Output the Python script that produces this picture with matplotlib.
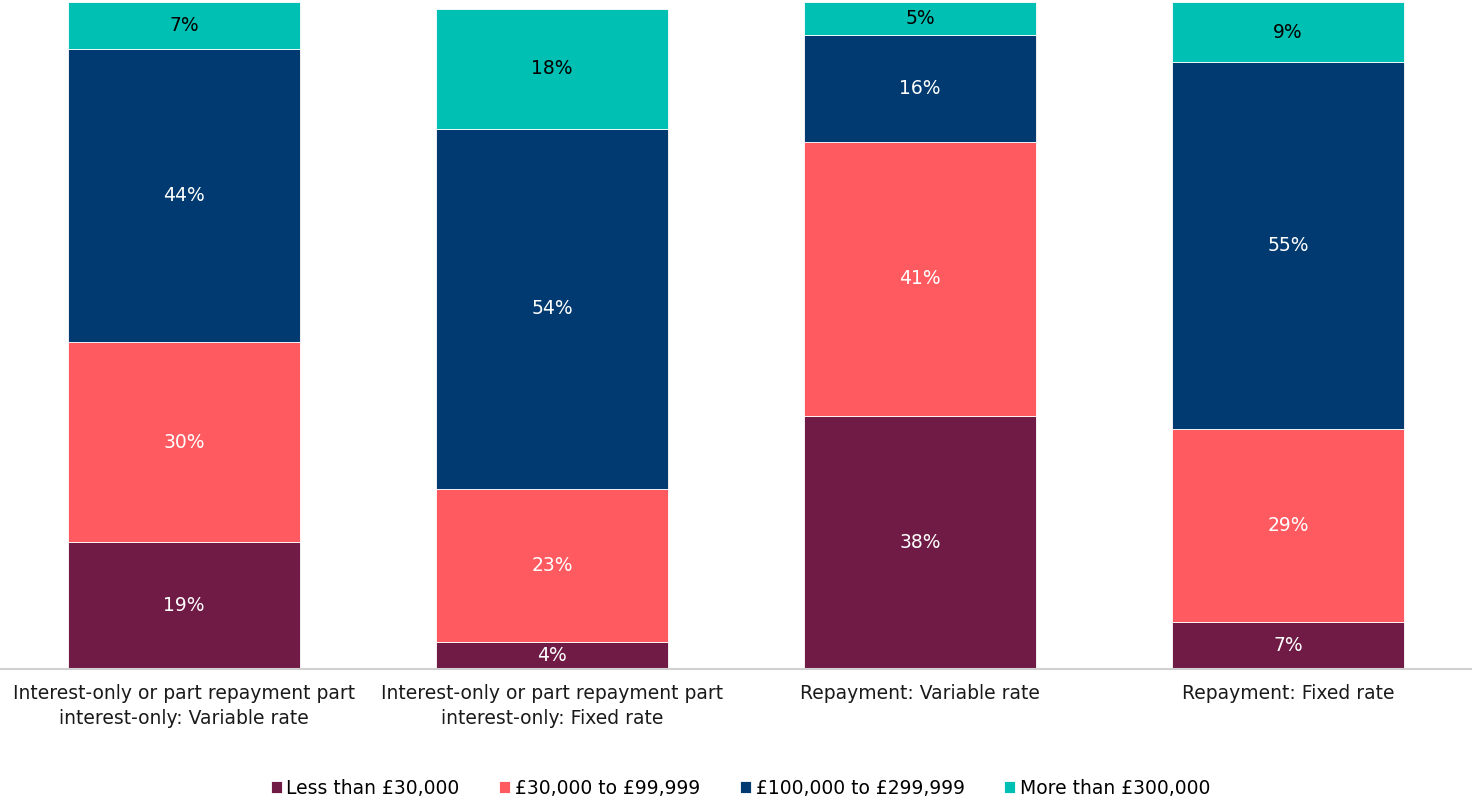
import matplotlib
matplotlib.use("Agg")
import matplotlib.pyplot as plt
import numpy as np

categories = ["Interest-only or part repayment part\ninterest-only: Variable rate",
              "Interest-only or part repayment part\ninterest-only: Fixed rate",
              "Repayment: Variable rate",
              "Repayment: Fixed rate"]
series_names = ["Less than £30,000", "£30,000 to £99,999", "£100,000 to £299,999", "More than £300,000"]
less_30k = [19, 4, 38, 7]
k30_99k = [30, 23, 41, 29]
k100_299k = [44, 54, 16, 55]
more_300k = [7, 18, 5, 9]

colors = ["#701B45", "#FF5A5F", "#003A70", "#00BFB3"]
text_colors = ["white", "white", "white", "black"]

plt.rcParams['font.family'] = ['DejaVu Sans']
FS = 13.5
fig = plt.figure(figsize=(14.72, 8.02), dpi=100)
ax = fig.add_axes([0.0, 1 - 669/802, 1.0, 669/802])

x = np.arange(len(categories))
bottom = np.zeros(len(categories))
handles = []
for vals, name, c, tc in zip([less_30k, k30_99k, k100_299k, more_300k], series_names, colors, text_colors):
    vals = np.array(vals, dtype=float)
    b = ax.bar(x, vals, 0.628, bottom=bottom, color=c, edgecolor="white", linewidth=0.6, label=name)
    handles.append(b)
    for xi, v, bt in zip(x, vals, bottom):
        ax.text(xi, bt + v / 2, f"{int(v)}%", ha="center", va="center", color=tc, fontsize=FS)
    bottom += vals

ax.set_xlim(-0.5, 3.5)
ax.set_ylim(0, 100.3)
ax.set_yticks([])
ax.set_xticks(x)
ax.set_xticklabels(categories, fontsize=FS, color="#1a1a1a", linespacing=1.35)
ax.tick_params(axis="x", length=0, pad=11)
for s in ["top", "left", "right"]:
    ax.spines[s].set_visible(False)
ax.spines["bottom"].set_color("#d0d0d0")
ax.spines["bottom"].set_linewidth(1.5)

fig.legend(handles=handles, labels=series_names, loc="center", bbox_to_anchor=(0.503, 1 - 788/802),
           ncol=4, frameon=False, fontsize=FS, handlelength=0.6, handleheight=0.6,
           handletextpad=0.25, columnspacing=2.1)

fig.savefig("out.png", dpi=100)
